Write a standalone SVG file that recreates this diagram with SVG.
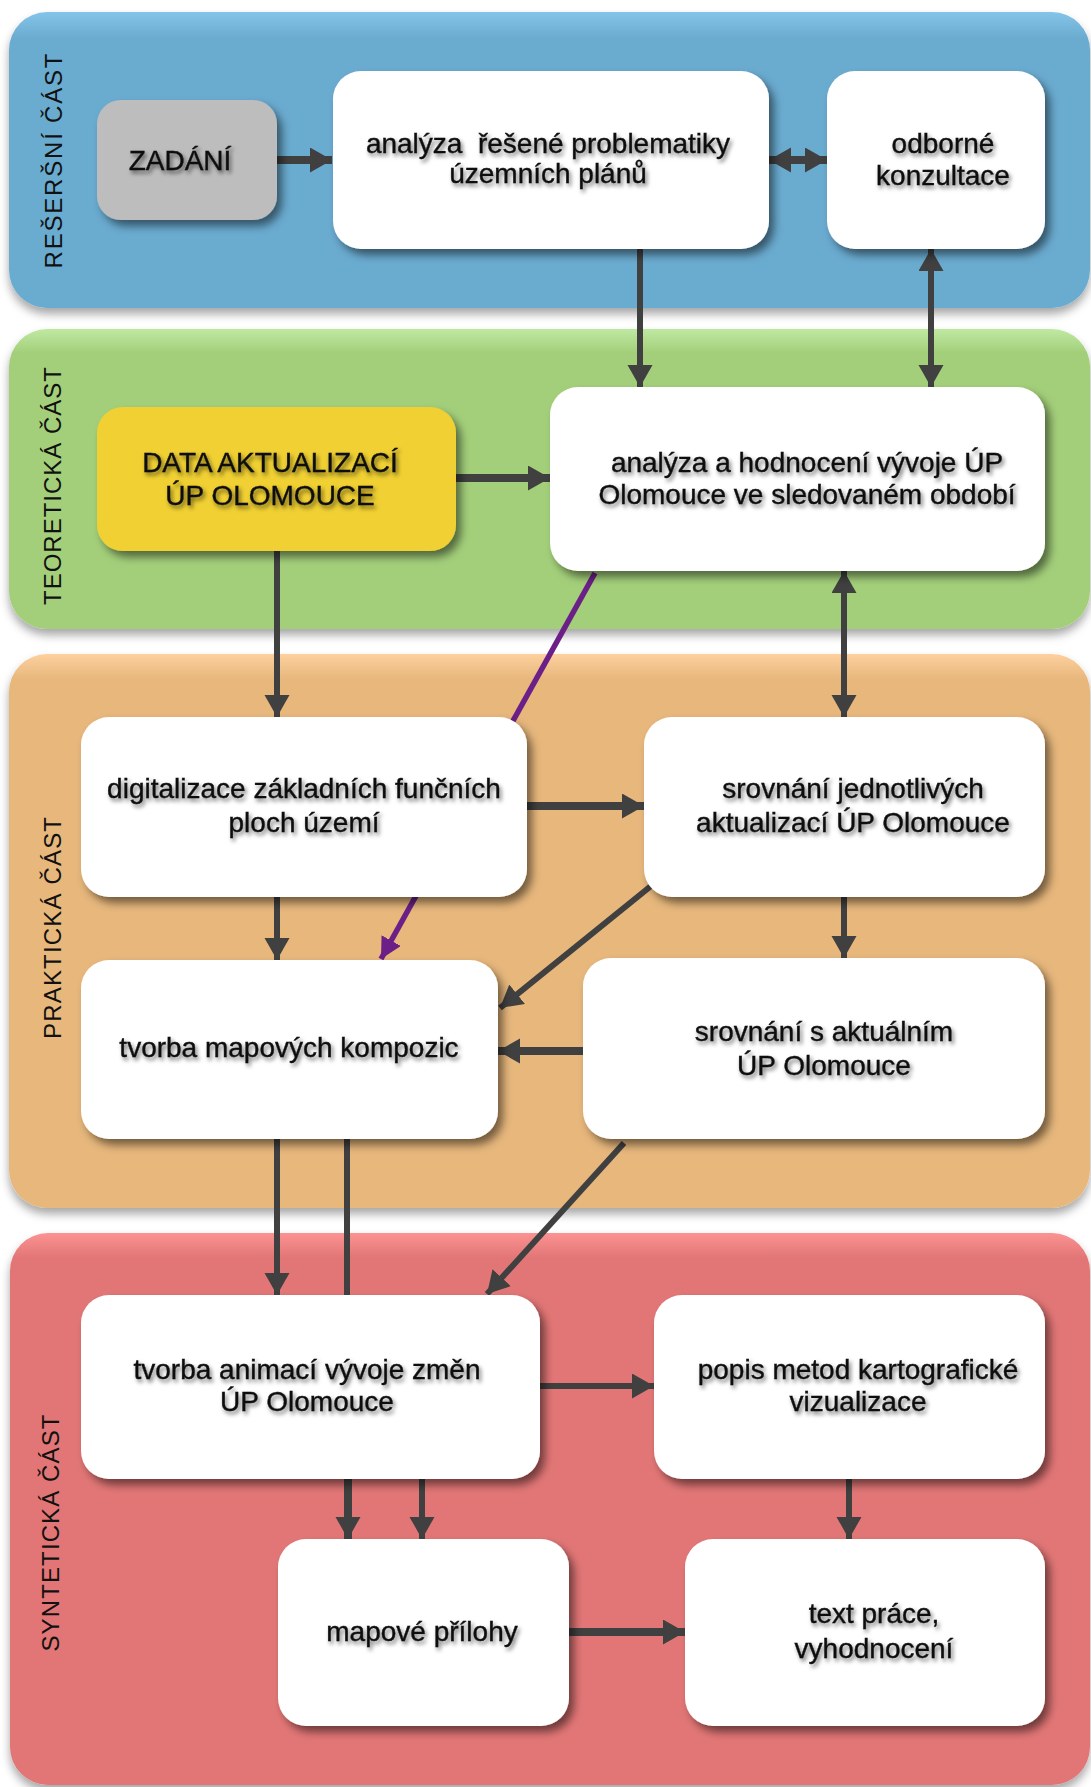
<svg xmlns="http://www.w3.org/2000/svg" width="1091" height="1787" viewBox="0 0 1091 1787">
<defs>
<linearGradient id="gBlue" x1="0" y1="0" x2="0" y2="1"><stop offset="0" stop-color="#84c4e8"/><stop offset="0.09" stop-color="#6babd0"/><stop offset="1" stop-color="#6babd0"/></linearGradient>
<linearGradient id="gGreen" x1="0" y1="0" x2="0" y2="1"><stop offset="0" stop-color="#bfe9a2"/><stop offset="0.08" stop-color="#a3cf7a"/><stop offset="1" stop-color="#a3cf7a"/></linearGradient>
<linearGradient id="gOrange" x1="0" y1="0" x2="0" y2="1"><stop offset="0" stop-color="#fdd09e"/><stop offset="0.045" stop-color="#e7b77c"/><stop offset="1" stop-color="#e7b77c"/></linearGradient>
<linearGradient id="gRed" x1="0" y1="0" x2="0" y2="1"><stop offset="0" stop-color="#fc9292"/><stop offset="0.045" stop-color="#e27676"/><stop offset="1" stop-color="#e27676"/></linearGradient>
<filter id="laneSh" x="-5%" y="-5%" width="110%" height="115%"><feDropShadow dx="0" dy="6" stdDeviation="5" flood-color="#000" flood-opacity="0.35"/></filter>
<filter id="nodeSh" x="-10%" y="-10%" width="125%" height="130%"><feDropShadow dx="5" dy="6" stdDeviation="4" flood-color="#000" flood-opacity="0.5"/></filter>
<filter id="txtSh" x="-10%" y="-40%" width="125%" height="200%"><feDropShadow dx="2" dy="3" stdDeviation="2" flood-color="#000" flood-opacity="0.55"/></filter>
<marker id="ah" markerUnits="userSpaceOnUse" markerWidth="24" markerHeight="26" refX="22" refY="12.5" orient="auto-start-reverse" viewBox="0 0 24 26"><path d="M0,0 L22,12.5 L0,25 Z" fill="#404040"/></marker>
<marker id="ahP" markerUnits="userSpaceOnUse" markerWidth="24" markerHeight="24" refX="21" refY="11" orient="auto" viewBox="0 0 24 24"><path d="M0,0 L21,11 L0,22 Z" fill="#6b1f87"/></marker>
</defs>
<style>
.lane{filter:url(#laneSh);}
.node rect{filter:url(#nodeSh);}
.box{fill:#ffffff;}
.t{font-family:"Liberation Sans",Arial,sans-serif;font-size:28px;fill:#111;stroke:#111;stroke-width:0.4;text-anchor:middle;filter:url(#txtSh);}
.lbl{font-family:"Liberation Sans",Arial,sans-serif;font-size:24px;fill:#111;text-anchor:middle;}
.c{fill:none;stroke:#404040;stroke-width:6;}
.th{stroke-width:8;}
</style>

<g id="lanes">
<rect class="lane" x="9" y="12" width="1081" height="296" rx="38" fill="url(#gBlue)"/>
<rect class="lane" x="9" y="329" width="1081" height="300" rx="38" fill="url(#gGreen)"/>
<rect class="lane" x="9" y="654" width="1081" height="554" rx="38" fill="url(#gOrange)"/>
<rect class="lane" x="10" y="1233" width="1080" height="552" rx="38" fill="url(#gRed)"/>
<text class="lbl" transform="translate(62,161) rotate(-90)" textLength="215" lengthAdjust="spacing">REŠERŠNÍ ČÁST</text>
<text class="lbl" transform="translate(61,486) rotate(-90)" textLength="238" lengthAdjust="spacing">TEORETICKÁ ČÁST</text>
<text class="lbl" transform="translate(61,928) rotate(-90)" textLength="222" lengthAdjust="spacing">PRAKTICKÁ ČÁST</text>
<text class="lbl" transform="translate(59,1533) rotate(-90)" textLength="237" lengthAdjust="spacing">SYNTETICKÁ ČÁST</text>
</g>

<g id="connectors">
<path class="c th" d="M277,160 H332" marker-end="url(#ah)"/>
<path class="c th" d="M769,160 H827" marker-start="url(#ah)" marker-end="url(#ah)"/>
<path class="c" d="M640,249 V387" marker-end="url(#ah)"/>
<path class="c" stroke-width="7" d="M931,249 V387" marker-start="url(#ah)" marker-end="url(#ah)"/>
<path class="c th" d="M456,478 H550" marker-end="url(#ah)"/>
<path class="c" d="M277,551 V717" marker-end="url(#ah)"/>
<path d="M595,573 L381,959" fill="none" stroke="#6b1f87" stroke-width="5.5" marker-end="url(#ahP)"/>
<path class="c" d="M844,571 V717" marker-start="url(#ah)" marker-end="url(#ah)"/>
<path class="c th" d="M527,806 H644" marker-end="url(#ah)"/>
<path class="c" d="M277,897 V960" marker-end="url(#ah)"/>
<path class="c" d="M844,897 V958" marker-end="url(#ah)"/>
<path class="c" d="M651,886 L500,1008" marker-end="url(#ah)"/>
<path class="c th" d="M583,1051 H498" marker-end="url(#ah)"/>
<path class="c" d="M277,1139 V1295" marker-end="url(#ah)"/>
<path class="c" d="M347,1139 V1295"/>
<path class="c" d="M624,1143 L487,1294" marker-end="url(#ah)"/>
<path class="c" stroke-width="9" d="M540,1386 H654" marker-end="url(#ah)"/>
<path class="c th" d="M348,1479 V1539" marker-end="url(#ah)"/>
<path class="c" d="M422,1479 V1539" marker-end="url(#ah)"/>
<path class="c" d="M849,1479 V1539" marker-end="url(#ah)"/>
<path class="c th" d="M569,1632 H685" marker-end="url(#ah)"/>
</g>

<g id="n-zadani" class="node"><rect x="97" y="100" width="180" height="120" rx="24" fill="#bdbdbd"/><text class="t" x="180" y="170">ZADÁNÍ</text></g>
<g id="n-analyza" class="node"><rect class="box" x="333" y="71" width="436" height="178" rx="28"/><text class="t" x="548" y="153" xml:space="preserve">analýza  řešené problematiky</text><text class="t" x="548" y="183">územních plánů</text></g>
<g id="n-odborne" class="node"><rect class="box" x="827" y="71" width="218" height="178" rx="28"/><text class="t" x="943" y="153">odborné</text><text class="t" x="943" y="185">konzultace</text></g>
<g id="n-data" class="node"><rect x="97" y="407" width="359" height="144" rx="26" fill="#f0d032"/><text class="t" x="270" y="472">DATA AKTUALIZACÍ</text><text class="t" x="270" y="505">ÚP OLOMOUCE</text></g>
<g id="n-hodnoceni" class="node"><rect class="box" x="550" y="387" width="495" height="184" rx="28"/><text class="t" x="807" y="472">analýza a hodnocení vývoje ÚP</text><text class="t" x="807" y="504">Olomouce ve sledovaném období</text></g>
<g id="n-digitalizace" class="node"><rect class="box" x="81" y="717" width="446" height="180" rx="28"/><text class="t" x="304" y="798">digitalizace základních funčních</text><text class="t" x="304" y="832">ploch území</text></g>
<g id="n-srovnani-jedn" class="node"><rect class="box" x="644" y="717" width="401" height="180" rx="28"/><text class="t" x="853" y="798">srovnání jednotlivých</text><text class="t" x="853" y="832">aktualizací ÚP Olomouce</text></g>
<g id="n-kompozice" class="node"><rect class="box" x="81" y="960" width="417" height="179" rx="28"/><text class="t" x="289" y="1057">tvorba mapových kompozic</text></g>
<g id="n-srovnani-akt" class="node"><rect class="box" x="583" y="958" width="462" height="181" rx="28"/><text class="t" x="824" y="1041">srovnání s aktuálním</text><text class="t" x="824" y="1075">ÚP Olomouce</text></g>
<g id="n-animace" class="node"><rect class="box" x="81" y="1295" width="459" height="184" rx="28"/><text class="t" x="307" y="1379">tvorba animací vývoje změn</text><text class="t" x="307" y="1411">ÚP Olomouce</text></g>
<g id="n-popis" class="node"><rect class="box" x="654" y="1295" width="391" height="184" rx="28"/><text class="t" x="858" y="1379">popis metod kartografické</text><text class="t" x="858" y="1411">vizualizace</text></g>
<g id="n-prilohy" class="node"><rect class="box" x="278" y="1539" width="291" height="187" rx="28"/><text class="t" x="422" y="1641">mapové přílohy</text></g>
<g id="n-text" class="node"><rect class="box" x="685" y="1539" width="360" height="187" rx="28"/><text class="t" x="874" y="1623">text práce,</text><text class="t" x="874" y="1658">vyhodnocení</text></g>
</svg>
